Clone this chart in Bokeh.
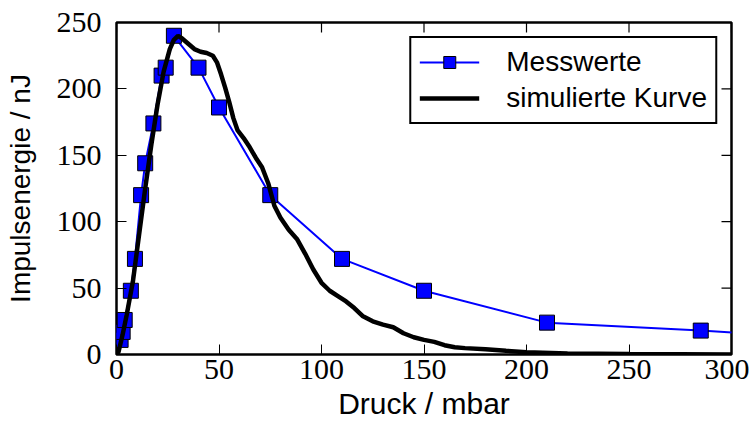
import math
from bokeh.plotting import figure
from bokeh.models import Range1d, FixedTicker, Legend, LegendItem
from bokeh.embed import file_html
from bokeh.resources import INLINE

# Messwerte (measured data)
mess_druck = [2, 3, 4, 7, 9, 12, 14, 18, 22, 24, 28, 40, 50, 75, 110, 150, 210, 285, 350]
mess_energie = [11, 17, 26, 48, 72, 120, 144, 174, 210, 216, 240, 216, 186, 120, 72, 48, 24, 18, 12]

# simulierte Kurve (simulated curve)
sim_druck = [0, 1, 3, 5, 8, 11, 14, 17, 20, 23, 26, 28, 30, 32, 35, 38, 41, 44, 47, 49,
             51, 53, 55, 57, 59, 62, 65, 68, 71, 74, 77, 80, 84, 88, 92, 96, 100, 104,
             108, 112, 116, 120, 125, 130, 135, 140, 145, 150, 155, 160, 165, 170, 180,
             190, 200, 220, 250, 300]
sim_energie = [0, 2, 15, 30, 55, 90, 125, 158, 188, 213, 230, 237, 240, 238, 234, 230, 228,
               227, 225, 220, 211, 201, 190, 178, 169, 163, 156, 148, 141, 129, 112, 103,
               94, 87, 76, 64, 54, 48, 44, 40, 35, 29, 25, 22.5, 20.5, 16, 13, 11, 9.5, 7,
               5.5, 4.8, 4, 2.8, 1.7, 0.7, 0.3, 0]

x_ticks = [0, 50, 100, 150, 200, 250, 300]
y_ticks = [0, 50, 100, 150, 200, 250]

x_label = "Druck / mbar"
y_label = "Impulsenergie / nJ"

x_min, x_max = x_ticks[0], x_ticks[-1]
y_min, y_max = y_ticks[0], y_ticks[-1]

p = figure(frame_width=615, frame_height=332,
           x_range=Range1d(x_min, x_max), y_range=Range1d(y_min, y_max),
           output_backend="svg", toolbar_location=None,
           min_border_left=116, min_border_right=18,
           min_border_top=22, min_border_bottom=40)

p.grid.visible = False
p.outline_line_color = "black"
p.outline_line_width = 2.5
p.outline_line_alpha = 1
p.background_fill_color = "white"
p.border_fill_color = "white"

tick_font = "Liberation Serif"
label_font = "Liberation Sans"

p.xaxis.ticker = FixedTicker(ticks=x_ticks)
p.yaxis.ticker = FixedTicker(ticks=y_ticks)

for ax in p.axis:
    ax.axis_line_color = None
    ax.major_tick_in = 10
    ax.major_tick_out = 0
    ax.major_tick_line_color = "black"
    ax.major_tick_line_width = 1
    ax.minor_tick_line_color = None
    ax.major_label_text_font = tick_font
    ax.major_label_text_font_size = "30px"
    ax.major_label_text_color = "black"
    ax.axis_label_text_font = label_font
    ax.axis_label_text_font_style = "normal"
    ax.axis_label_text_color = "black"

p.xaxis.axis_label = x_label
p.yaxis.axis_label = y_label
p.xaxis.axis_label_text_font_size = "30px"
p.yaxis.axis_label_text_font_size = "28px"
p.xaxis.major_label_standoff = 5
p.xaxis.axis_label_standoff = 5
p.yaxis.major_label_standoff = 15
p.yaxis.axis_label_standoff = 18

# inward ticks on the top and right edges (half of each dash is clipped by the frame)
p.scatter(x_ticks, [y_max] * len(x_ticks), marker="dash", size=20, angle=math.pi / 2,
          line_color="black", line_width=1.2)
p.scatter([x_max] * len(y_ticks), y_ticks, marker="dash", size=20,
          line_color="black", line_width=1.2)

mline = p.line(mess_druck, mess_energie, line_color="#0000ff", line_width=2)
mpts = p.scatter(mess_druck, mess_energie, marker="square", size=15,
                 fill_color="#0000ff", line_color="black", line_width=1)
sline = p.line(sim_druck, sim_energie, line_color="black", line_width=4.5)

legend = Legend(items=[LegendItem(label="Messwerte", renderers=[mline, mpts]),
                       LegendItem(label="simulierte Kurve", renderers=[sline])],
                location="top_right")
legend.margin = 14
legend.padding = 8
legend.spacing = 4
legend.glyph_width = 60
legend.glyph_height = 30
legend.label_height = 30
legend.label_standoff = 27
legend.label_text_font = label_font
legend.label_text_font_size = "28px"
legend.label_text_color = "black"
legend.border_line_color = "black"
legend.border_line_alpha = 1
legend.border_line_width = 2
legend.background_fill_color = "white"
legend.background_fill_alpha = 1
p.add_layout(legend, "center")

open("out.html", "w").write(file_html(p, INLINE))
